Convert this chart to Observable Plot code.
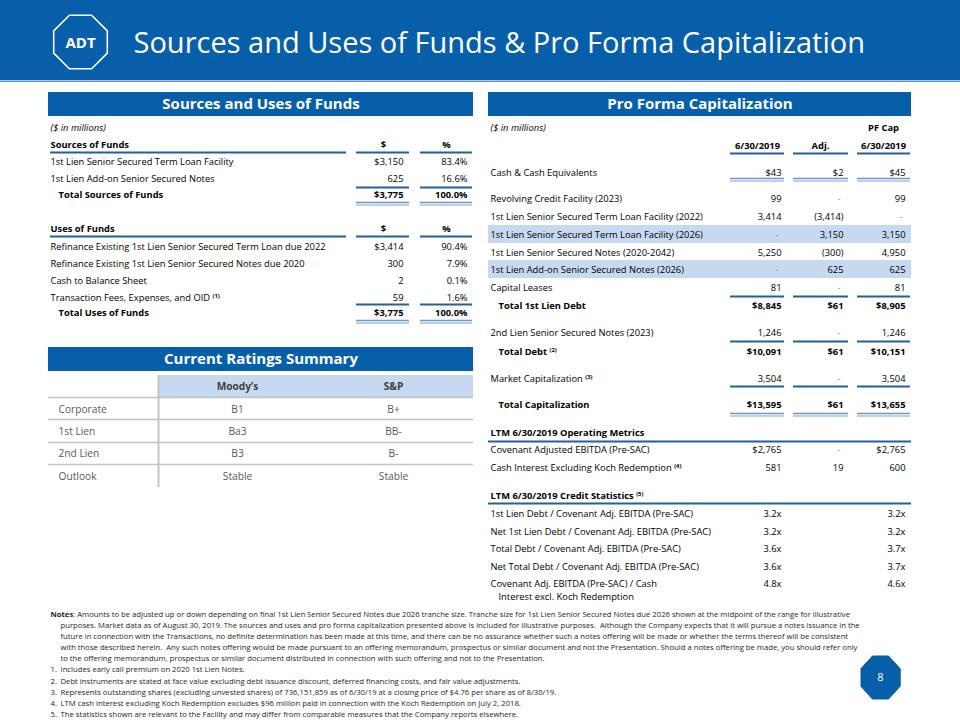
<!DOCTYPE html>
<html><head><meta charset="utf-8">
<script src="https://cdn.jsdelivr.net/npm/d3@7"></script>
<script src="https://cdn.jsdelivr.net/npm/@observablehq/plot@0.6"></script>
<style>
html,body{margin:0;padding:0;background:#fff;}
#chart svg{display:block;}
</style></head><body><div id="chart"></div>
<script>
// ================= DATA =================
const pageTitle = "Sources and Uses of Funds & Pro Forma Capitalization";
const unitNote = "($ in millions)";

const sourcesLabels = ["1st Lien Senior Secured Term Loan Facility", "1st Lien Add-on Senior Secured Notes"];
const sourcesAmount = [3150, 625];
const sourcesPct = [83.4, 16.6];
const sourcesTotal = {label: "Total Sources of Funds", amount: 3775, pct: 100.0};

const usesLabels = [
  "Refinance Existing 1st Lien Senior Secured Term Loan due 2022",
  "Refinance Existing 1st Lien Senior Secured Notes due 2020",
  "Cash to Balance Sheet",
  "Transaction Fees, Expenses, and OID ^(1)"
];
const usesAmount = [3414, 300, 2, 59];
const usesPct = [90.4, 7.9, 0.1, 1.6];
const usesTotal = {label: "Total Uses of Funds", amount: 3775, pct: 100.0};

const ratingAgencies = ["Moody’s", "S&P"];
const ratingCategories = ["Corporate", "1st Lien", "2nd Lien", "Outlook"];
const moodysRatings = ["B1", "Ba3", "B3", "Stable"];
const spRatings = ["B+", "BB-", "B-", "Stable"];

const capColumns = ["6/30/2019", "Adj.", "6/30/2019"];
const capLabels = [
  "Cash & Cash Equivalents",
  "Revolving Credit Facility (2023)",
  "1st Lien Senior Secured Term Loan Facility (2022)",
  "1st Lien Senior Secured Term Loan Facility (2026)",
  "1st Lien Senior Secured Notes (2020-2042)",
  "1st Lien Add-on Senior Secured Notes (2026)",
  "Capital Leases",
  "Total 1st Lien Debt",
  "2nd Lien Senior Secured Notes (2023)",
  "Total Debt ^(2)",
  "Market Capitalization ^(3)",
  "Total Capitalization",
  "Covenant Adjusted EBITDA (Pre-SAC)",
  "Cash Interest Excluding Koch Redemption ^(4)"
];
const capCurrent = [43, 99, 3414, null, 5250, null, 81, 8845, 1246, 10091, 3504, 13595, 2765, 581];
const capAdj     = [2, null, -3414, 3150, -300, 625, null, 61, null, 61, null, 61, null, 19];
const capPF      = [45, 99, null, 3150, 4950, 625, 81, 8905, 1246, 10151, 3504, 13655, 2765, 600];

const opMetricsTitle = "LTM 6/30/2019 Operating Metrics";
const creditStatsTitle = "LTM 6/30/2019 Credit Statistics ^(5)";
const statLabels = [
  "1st Lien Debt / Covenant Adj. EBITDA (Pre-SAC)",
  "Net 1st Lien Debt / Covenant Adj. EBITDA (Pre-SAC)",
  "Total Debt / Covenant Adj. EBITDA (Pre-SAC)",
  "Net Total Debt / Covenant Adj. EBITDA (Pre-SAC)",
  "Covenant Adj. EBITDA (Pre-SAC) / Cash"
];
const statLabelContinued = "Interest excl. Koch Redemption";
const statCurrent = [3.2, 3.2, 3.6, 3.6, 4.8];
const statPF = [3.2, 3.2, 3.7, 3.7, 4.6];

const notesLines = [
  "Notes~: Amounts to be adjusted up or down depending on final 1st Lien Senior Secured Notes due 2026 tranche size. Tranche size for 1st Lien Senior Secured Notes due 2026 shown at the midpoint of the range for illustrative",
  "purposes. Market data as of August 30, 2019. The sources and uses and pro forma capitalization presented above is included for illustrative purposes.  Although the Company expects that it will pursue a notes issuance in the",
  "future in connection with the Transactions, no definite determination has been made at this time, and there can be no assurance whether such a notes offering will be made or whether the terms thereof will be consistent",
  "with those described herein.  Any such notes offering would be made pursuant to an offering memorandum, prospectus or similar document and not the Presentation. Should a notes offering be made, you should refer only",
  "to the offering memorandum, prospectus or similar document distributed in connection with such offering and not to the Presentation."
];
const footnotes = [
  "Includes early call premium on 2020 1st Lien Notes.",
  "Debt instruments are stated at face value excluding debt issuance discount, deferred financing costs, and fair value adjustments.",
  "Represents outstanding shares (excluding unvested shares) of 736,151,859 as of 6/30/19 at a closing price of $4.76 per share as of 8/30/19.",
  "LTM cash interest excluding Koch Redemption excludes $96 million paid in connection with the Koch Redemption on July 2, 2018.",
  "The statistics shown are relevant to the Facility and may differ from comparable measures that the Company reports elsewhere."
];
const pageNumber = "8";

// ================= LAYOUT & STYLE =================
const F = "'Open Sans', 'Noto Sans', 'DejaVu Sans', sans-serif";
const FS = 9.35;
const INK = "#000";
const BLUE = "#075FA9";
const DARKLINE = "#255E98";
const DBL1 = "#6E98C4", DBL2 = "#A9C2DD";
const HL = "#C6D9F1";
const GRID = "#C4C4C4";

const L = {x1: 48, x2: 473, label: 50, indent: 58, amtR: 403, pctR: 467, amtC: 383, pctC: 446,
  labelLine: [50, 346], amtLine: [356, 409], pctLine: [420, 472]};
const LY = {bar: [92, 116], unit: 127, srcHead: 144, srcHeadLine: 152, srcRows: [161, 178], srcTotLine: 187,
  srcTot: 194, srcDbl: 202, useHead: 228, useHeadLine: 236, useRows: [246, 263, 280, 297], useTotLine: 304,
  useTot: 312, useDbl: 320};
const RT = {bar: [347, 371], head: [375, 397], vline: 158, colC: [237, 393], labelX: 58,
  rows: [409, 431, 453, 476], grid: [397, 419, 442, 464], vEnd: 487};
const R = {x1: 488, x2: 911, label: 490, indent: 498, colR: [781, 843, 905], colC: [757, 820, 883],
  colLine: [[730, 784], [793, 848], [857, 910]]};
const RY = {unit: 127, colHead: 145, colHeadLine: 153,
  rows: [172, 198, 216, 234, 252, 269, 287, 305, 332, 351, 378, 404, 449, 467],
  totals: [7, 9, 11], dollars: [0, 7, 9, 11, 12], highlight: [3, 5],
  singles: [296, 341, 386], doubles: [178, 413],
  opHead: 432, opLine: 441, csHead: 495, csLine: 503, stats: [513, 531, 548, 566, 583], statCont: 596};
const NY = {first: 614, step: 11.1, x: 50, indent: 60};

// ================= HELPERS =================
const fmtInt = d3.format(",");
const money = (v, dollar) => v == null ? "-" : v < 0 ? `(${fmtInt(-v)})` : (dollar ? "$" : "") + fmtInt(v);
const pct = v => d3.format(".1f")(v) + "%";
const mult = v => d3.format(".1f")(v) + "x";

function text(data, o = {}) {
  return Plot.text(data, {
    x: "x", y: "y", text: "t",
    textAnchor: o.anchor ?? "start",
    fontSize: o.size ?? FS,
    fontWeight: o.weight ?? "normal",
    fontStyle: o.style ?? "normal",
    fill: o.fill ?? INK,
    fontFamily: F
  });
}
const hrule = (data, stroke, w) => Plot.ruleY(data, {y: "y", x1: "x1", x2: "x2", stroke, strokeWidth: w});
const box = (data, fill) => Plot.rect(data, {x1: "x1", x2: "x2", y1: "y1", y2: "y2", fill});
const seg = (y, [a, b]) => ({y, x1: a, x2: b});

const marks = [];

// ---- header band ----
marks.push(box([{x1: 0, x2: 960, y1: 0, y2: 80}], BLUE));
marks.push(hrule([{y: 80.8, x1: 0, x2: 960}], "#5E93CF", 1.6));
const logo = {cx: 80, cy: 41.5, r: 29};
const octagon = d3.range(8).map(k => {
  const a = (22.5 + 45 * k) * Math.PI / 180;
  return {x: logo.cx + logo.r * Math.cos(a), y: logo.cy + logo.r * Math.sin(a)};
});
marks.push(Plot.line(octagon, {x: "x", y: "y", curve: "linear-closed", stroke: "white", strokeWidth: 1.6}));
marks.push(text([{x: logo.cx, y: logo.cy + 1, t: "ADT"}], {anchor: "middle", size: 15, weight: "bold", fill: "white"}));
marks.push(text([{x: 133, y: 43, t: pageTitle}], {size: 29, fill: "white"}));

// ---- section bars ----
marks.push(box([
  {x1: L.x1, x2: L.x2, y1: LY.bar[0], y2: LY.bar[1]},
  {x1: R.x1, x2: R.x2, y1: LY.bar[0], y2: LY.bar[1]},
  {x1: L.x1, x2: L.x2, y1: RT.bar[0], y2: RT.bar[1]}
], BLUE));
marks.push(text([
  {x: (L.x1 + L.x2) / 2, y: (LY.bar[0] + LY.bar[1]) / 2, t: "Sources and Uses of Funds"},
  {x: (R.x1 + R.x2) / 2, y: (LY.bar[0] + LY.bar[1]) / 2, t: "Pro Forma Capitalization"},
  {x: (L.x1 + L.x2) / 2, y: (RT.bar[0] + RT.bar[1]) / 2, t: "Current Ratings Summary"}
], {anchor: "middle", size: 15, weight: "bold", fill: "white"}));

// ---- Sources & Uses ----
marks.push(text([{x: L.label, y: LY.unit, t: unitNote}, {x: R.label, y: RY.unit, t: unitNote}], {style: "italic"}));
marks.push(text([{x: L.label, y: LY.srcHead, t: "Sources of Funds"}, {x: L.label, y: LY.useHead, t: "Uses of Funds"}], {weight: "bold"}));
marks.push(text([
  {x: L.amtC, y: LY.srcHead, t: "$"}, {x: L.pctC, y: LY.srcHead, t: "%"},
  {x: L.amtC, y: LY.useHead, t: "$"}, {x: L.pctC, y: LY.useHead, t: "%"}
], {anchor: "middle", weight: "bold"}));
marks.push(hrule([
  seg(LY.srcHeadLine, L.labelLine), seg(LY.srcHeadLine, L.amtLine), seg(LY.srcHeadLine, L.pctLine),
  seg(LY.useHeadLine, L.labelLine), seg(LY.useHeadLine, L.amtLine), seg(LY.useHeadLine, L.pctLine),
  seg(LY.srcTotLine, L.amtLine), seg(LY.srcTotLine, L.pctLine),
  seg(LY.useTotLine, L.amtLine), seg(LY.useTotLine, L.pctLine)
], DARKLINE, 2));
marks.push(hrule([seg(LY.srcDbl, L.amtLine), seg(LY.srcDbl, L.pctLine), seg(LY.useDbl, L.amtLine), seg(LY.useDbl, L.pctLine)], DBL1, 1.5));
marks.push(hrule([seg(LY.srcDbl + 2.6, L.amtLine), seg(LY.srcDbl + 2.6, L.pctLine), seg(LY.useDbl + 2.6, L.amtLine), seg(LY.useDbl + 2.6, L.pctLine)], DBL2, 1.5));

const srcRows = sourcesLabels.map((t, i) => ({x: L.label, y: LY.srcRows[i], t}));
const useRows = usesLabels.map((t, i) => ({x: L.label, y: LY.useRows[i], t}));
marks.push(text([...srcRows, ...useRows]));
marks.push(text([{x: L.indent, y: LY.srcTot, t: sourcesTotal.label}, {x: L.indent, y: LY.useTot, t: usesTotal.label}], {weight: "bold"}));
marks.push(text([
  ...sourcesAmount.map((v, i) => ({x: L.amtR, y: LY.srcRows[i], t: money(v, i === 0)})),
  ...usesAmount.map((v, i) => ({x: L.amtR, y: LY.useRows[i], t: money(v, i === 0)})),
  ...sourcesPct.map((v, i) => ({x: L.pctR, y: LY.srcRows[i], t: pct(v)})),
  ...usesPct.map((v, i) => ({x: L.pctR, y: LY.useRows[i], t: pct(v)}))
], {anchor: "end"}));
marks.push(text([
  {x: L.amtR, y: LY.srcTot, t: money(sourcesTotal.amount, true)}, {x: L.pctR, y: LY.srcTot, t: pct(sourcesTotal.pct)},
  {x: L.amtR, y: LY.useTot, t: money(usesTotal.amount, true)}, {x: L.pctR, y: LY.useTot, t: pct(usesTotal.pct)}
], {anchor: "end", weight: "bold"}));

// ---- Ratings ----
marks.push(box([{x1: RT.vline, x2: L.x2, y1: RT.head[0], y2: RT.head[1]}], HL));
marks.push(hrule(RT.grid.map(y => ({y, x1: L.x1, x2: L.x2})), GRID, 1.6));
marks.push(Plot.ruleX([{x: RT.vline, y1: RT.head[0], y2: RT.vEnd}], {x: "x", y1: "y1", y2: "y2", stroke: GRID, strokeWidth: 2}));
marks.push(text(ratingAgencies.map((t, i) => ({x: RT.colC[i], y: (RT.head[0] + RT.head[1]) / 2, t})), {anchor: "middle", weight: "bold", fill: "#3F3F3F", size: 10.2}));
marks.push(text(ratingCategories.map((t, i) => ({x: RT.labelX, y: RT.rows[i], t})), {fill: "#595959", size: 10.2}));
marks.push(text([
  ...moodysRatings.map((t, i) => ({x: RT.colC[0], y: RT.rows[i], t})),
  ...spRatings.map((t, i) => ({x: RT.colC[1], y: RT.rows[i], t}))
], {anchor: "middle", fill: "#595959", size: 10.2}));

// ---- Pro Forma Capitalization ----
marks.push(box(RY.highlight.map(i => ({x1: R.x1, x2: R.x2, y1: RY.rows[i] - 9, y2: RY.rows[i] + 9})), HL));
marks.push(text([{x: R.colC[2], y: RY.unit, t: "PF Cap"}, ...capColumns.map((t, i) => ({x: R.colC[i], y: RY.colHead, t}))], {anchor: "middle", weight: "bold"}));
marks.push(hrule([
  ...R.colLine.map(c => seg(RY.colHeadLine, c)),
  ...RY.singles.flatMap(y => R.colLine.map(c => seg(y, c))),
  seg(RY.opLine, [R.x1, R.x2]), seg(RY.csLine, [R.x1, R.x2])
], DARKLINE, 2));
marks.push(hrule(RY.doubles.flatMap(y => R.colLine.map(c => seg(y, c))), DBL1, 1.5));
marks.push(hrule(RY.doubles.flatMap(y => R.colLine.map(c => seg(y + 2.6, c))), DBL2, 1.5));

const isTotal = i => RY.totals.includes(i);
marks.push(text(capLabels.map((t, i) => ({x: R.label, y: RY.rows[i], t})).filter((d, i) => !isTotal(i))));
marks.push(text(capLabels.map((t, i) => ({x: R.indent, y: RY.rows[i], t})).filter((d, i) => isTotal(i)), {weight: "bold"}));
marks.push(text([{x: R.label, y: RY.opHead, t: opMetricsTitle}, {x: R.label, y: RY.csHead, t: creditStatsTitle}], {weight: "bold"}));

const capCells = [capCurrent, capAdj, capPF].flatMap((col, c) =>
  col.map((v, i) => ({x: R.colR[c], y: RY.rows[i], t: money(v, RY.dollars.includes(i)), v, i})));
marks.push(text(capCells.filter(d => d.v != null && !isTotal(d.i)), {anchor: "end"}));
marks.push(text(capCells.filter(d => d.v != null && isTotal(d.i)), {anchor: "end", weight: "bold"}));
marks.push(text(capCells.filter(d => d.v == null).map(d => ({...d, x: d.x - 3})), {anchor: "end", fill: "#8C8C8C"}));

marks.push(text(statLabels.map((t, i) => ({x: R.label, y: RY.stats[i], t}))));
marks.push(text([{x: R.indent, y: RY.statCont, t: statLabelContinued}]));
marks.push(text([
  ...statCurrent.map((v, i) => ({x: R.colR[0], y: RY.stats[i], t: mult(v)})),
  ...statPF.map((v, i) => ({x: R.colR[2], y: RY.stats[i], t: mult(v)}))
], {anchor: "end"}));

// ---- Notes ----
const NS = 7.7;
marks.push(text(notesLines.map((t, i) => ({x: i === 0 ? NY.x : NY.indent, y: NY.first + i * NY.step, t})), {size: NS, fill: "#262626"}));
marks.push(text(footnotes.map((t, i) => ({x: NY.x, y: NY.first + (notesLines.length + i) * NY.step, t: `${i + 1}.`})), {size: NS, fill: "#262626"}));
marks.push(text(footnotes.map((t, i) => ({x: NY.indent, y: NY.first + (notesLines.length + i) * NY.step, t})), {size: NS, fill: "#262626"}));

// ---- page badge ----
const badge = {cx: 880, cy: 677, rx: 19.5, ry: 21.5};
const badgeShape = d3.range(8).map(k => {
  const a = (22.5 + 45 * k) * Math.PI / 180;
  return {x: badge.cx + badge.rx * Math.cos(a) / Math.cos(Math.PI / 8), y: badge.cy + badge.ry * Math.sin(a) / Math.cos(Math.PI / 8)};
});
marks.push(Plot.line(badgeShape, {x: "x", y: "y", curve: "linear-closed", fill: BLUE, stroke: BLUE, strokeWidth: 1}));
marks.push(text([{x: badge.cx, y: badge.cy, t: pageNumber}], {anchor: "middle", size: 11, fill: "white"}));

// ================= PLOT =================
const svg = Plot.plot({
  width: 960, height: 720, margin: 0,
  x: {domain: [0, 960], range: [0, 960], axis: null},
  y: {domain: [0, 720], range: [0, 720], axis: null},
  style: {fontFamily: F, background: "white", overflow: "visible"},
  marks
});

// superscripts (^) and bold prefixes (~) as tspans
d3.select(svg).selectAll("text").each(function () {
  const s = this.textContent;
  const el = d3.select(this);
  if (s.includes("^")) {
    const [a, b] = s.split("^");
    el.text(a);
    el.append("tspan").attr("font-size", "0.62em").attr("dy", "-0.5em").attr("font-weight", "bold").text(b);
  } else if (s.includes("~")) {
    const [a, b] = s.split("~");
    el.text("");
    el.append("tspan").attr("font-weight", "bold").text(a);
    el.append("tspan").text(b);
  }
});
document.getElementById("chart").appendChild(svg);
</script></body></html>
